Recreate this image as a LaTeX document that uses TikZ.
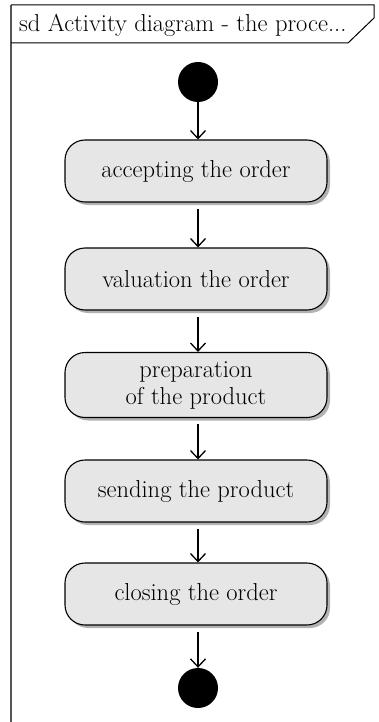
\documentclass[tikz,border=0pt]{standalone}
\usetikzlibrary{arrows.meta,shadows}
\definecolor{actfill}{HTML}{E6E6E6}
\definecolor{framegray}{HTML}{555555}
\begin{document}
\begin{tikzpicture}[x=1pt,y=-1pt,
  act/.style={draw=black, line width=1.1pt, fill=actfill, rounded corners=20pt,
    minimum width=262pt, minimum height=62pt, align=center, inner sep=0pt,
    font=\fontsize{24.5}{27}\selectfont,
    drop shadow={shadow xshift=3pt, shadow yshift=-3pt, fill=black!30, opacity=1}},
  dot/.style={circle, fill=black, minimum size=40pt, inner sep=0pt},
  flow/.style={-{Straight Barb[length=8pt,width=15pt,line width=1.3pt]}, line width=1.1pt}]
\useasboundingbox (0,0) rectangle (379,722);
% frame
\draw[framegray, line width=2pt] (11,5) -- (11,722);
\draw[black, line width=1pt] (11,5) -- (374,5) -- (374,18) -- (348,43) -- (11,43);
\node[anchor=west, inner sep=0pt, font=\fontsize{24.5}{27}\selectfont] (title) at (19,25) {sd Activity diagram - the proce...};
% nodes
\node[dot] (start) at (198,82) {};
\node[act] (a1) at (196,171) {accepting the order};
\node[act] (a2) at (196,279) {valuation the order};
\node[act, minimum height=65pt] (a3) at (196,385) {preparation\\of the product};
\node[act] (a4) at (196,491) {sending the product};
\node[act] (a5) at (196,594) {closing the order};
\node[dot] (end) at (198,688) {};
% flows
\draw[flow] (start) -- (start|-a1.north);
\draw[flow, shorten <=6pt] (start|-a1.south) -- (start|-a2.north);
\draw[flow, shorten <=6pt] (start|-a2.south) -- (start|-a3.north);
\draw[flow, shorten <=6pt] (start|-a3.south) -- (start|-a4.north);
\draw[flow, shorten <=6pt] (start|-a4.south) -- (start|-a5.north);
\draw[flow, shorten <=6pt] (start|-a5.south) -- (end);
\end{tikzpicture}
\end{document}
